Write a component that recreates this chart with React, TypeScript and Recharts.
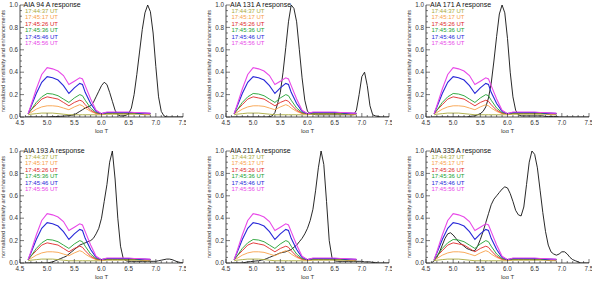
import React from "react";
import { LineChart, Line, XAxis, YAxis } from "recharts";

// temperature grids
const respT = [
  4.6, 4.65, 4.7, 4.75, 4.8, 4.85, 4.9, 4.95, 5.0, 5.05, 5.1, 5.15, 5.2, 5.25, 5.3,
  5.35, 5.4, 5.45, 5.5, 5.55, 5.6, 5.65, 5.7, 5.75, 5.8, 5.85, 5.9, 5.95, 6.0, 6.05,
  6.1, 6.15, 6.2, 6.25, 6.3, 6.35, 6.4, 6.45, 6.5, 6.55, 6.6, 6.65, 6.7, 6.75, 6.8,
  6.85, 6.9, 6.95, 7.0, 7.05, 7.1, 7.15, 7.2, 7.25, 7.3, 7.35, 7.4, 7.45, 7.5,
];
const enhT = [
  4.65, 4.7, 4.8, 4.9, 5.0, 5.1, 5.2, 5.3, 5.4, 5.5, 5.6, 5.65, 5.7, 5.8, 5.9, 6.0,
  6.1, 6.2, 6.3, 6.4, 6.5, 6.6, 6.7, 6.8, 6.9,
];

// enhancement curves (same in every panel)
const enh1 = [0.02, 0.025, 0.03, 0.035, 0.035, 0.035, 0.03, 0.025, 0.02, 0.02, 0.02, 0.02, 0.02, 0.02, 0.02, 0.02, 0.025, 0.025, 0.025, 0.025, 0.025, 0.025, 0.025, 0.02, 0.02];
const enh2 = [0.03, 0.04, 0.07, 0.09, 0.1, 0.1, 0.095, 0.08, 0.065, 0.09, 0.11, 0.1, 0.08, 0.05, 0.03, 0.025, 0.03, 0.03, 0.03, 0.03, 0.03, 0.03, 0.03, 0.025, 0.025];
const enh3 = [0.03, 0.06, 0.11, 0.16, 0.18, 0.17, 0.16, 0.13, 0.1, 0.13, 0.15, 0.14, 0.11, 0.06, 0.035, 0.03, 0.035, 0.035, 0.035, 0.035, 0.035, 0.035, 0.03, 0.03, 0.03];
const enh4 = [0.03, 0.06, 0.13, 0.18, 0.21, 0.205, 0.19, 0.16, 0.13, 0.17, 0.2, 0.19, 0.15, 0.08, 0.04, 0.03, 0.035, 0.035, 0.035, 0.035, 0.035, 0.035, 0.03, 0.03, 0.03];
const enh5 = [0.03, 0.09, 0.21, 0.31, 0.36, 0.35, 0.33, 0.28, 0.21, 0.26, 0.3, 0.29, 0.22, 0.12, 0.05, 0.03, 0.04, 0.04, 0.04, 0.04, 0.04, 0.04, 0.035, 0.035, 0.03];
const enh6 = [0.03, 0.1, 0.25, 0.38, 0.44, 0.43, 0.41, 0.37, 0.29, 0.32, 0.35, 0.34, 0.28, 0.16, 0.06, 0.03, 0.045, 0.045, 0.045, 0.045, 0.045, 0.04, 0.04, 0.035, 0.035];

const times = ["17:44:37 UT", "17:45:17 UT", "17:45:26 UT", "17:45:36 UT", "17:45:46 UT", "17:45:56 UT"];
const timeColors = ["#a8a83a", "#f8a048", "#e02828", "#20a030", "#2828d8", "#e848e8"];
const enhSeries = [enh1, enh2, enh3, enh4, enh5, enh6];

// normalized AIA temperature responses
const resp94 = [0, 0, 0, 0, 0, 0, 0, 0, 0, 0.002, 0.003, 0.004, 0.005, 0.006, 0.008, 0.01, 0.012, 0.015, 0.02, 0.035, 0.05, 0.065, 0.08, 0.09, 0.1, 0.13, 0.18, 0.23, 0.28, 0.31, 0.29, 0.22, 0.14, 0.06, 0.02, 0.01, 0.01, 0.015, 0.03, 0.08, 0.2, 0.38, 0.58, 0.78, 0.93, 1.0, 0.94, 0.75, 0.45, 0.18, 0.05, 0.01, 0, 0, 0, 0, 0, 0, 0];
const resp131 = [0, 0, 0, 0, 0, 0, 0, 0, 0, 0, 0, 0, 0, 0, 0.003, 0.01, 0.04, 0.12, 0.22, 0.4, 0.62, 0.85, 1.0, 0.97, 0.85, 0.6, 0.35, 0.15, 0.05, 0.03, 0.025, 0.02, 0.02, 0.02, 0.02, 0.02, 0.02, 0.02, 0.02, 0.02, 0.02, 0.02, 0.02, 0.02, 0.02, 0.02, 0.06, 0.2, 0.36, 0.4, 0.28, 0.1, 0.02, 0.01, 0.005, 0, 0, 0, 0];
const resp171 = [0, 0, 0, 0, 0, 0, 0, 0, 0, 0, 0, 0, 0, 0, 0.005, 0.008, 0.01, 0.02, 0.03, 0.05, 0.09, 0.17, 0.3, 0.5, 0.72, 0.92, 1.0, 0.93, 0.7, 0.4, 0.18, 0.06, 0.02, 0.01, 0.01, 0.01, 0.01, 0.01, 0.01, 0.01, 0.01, 0.01, 0.005, 0.005, 0.005, 0.005, 0.005, 0, 0, 0, 0, 0, 0, 0, 0, 0, 0, 0, 0];
const resp193 = [0, 0, 0, 0, 0, 0, 0, 0, 0, 0.005, 0.01, 0.02, 0.03, 0.04, 0.05, 0.06, 0.08, 0.1, 0.12, 0.14, 0.16, 0.17, 0.18, 0.19, 0.2, 0.22, 0.26, 0.31, 0.4, 0.55, 0.7, 0.9, 1.0, 0.75, 0.4, 0.15, 0.04, 0.02, 0.015, 0.015, 0.015, 0.015, 0.015, 0.015, 0.015, 0.015, 0.015, 0.015, 0.015, 0.02, 0.025, 0.03, 0.035, 0.035, 0.03, 0.02, 0.01, 0.005, 0];
const resp211 = [0, 0, 0, 0, 0, 0.005, 0.01, 0.012, 0.015, 0.018, 0.02, 0.025, 0.03, 0.04, 0.05, 0.06, 0.07, 0.08, 0.09, 0.095, 0.1, 0.11, 0.12, 0.14, 0.16, 0.19, 0.22, 0.26, 0.31, 0.38, 0.48, 0.65, 0.85, 1.0, 0.88, 0.55, 0.2, 0.05, 0.02, 0.015, 0.015, 0.015, 0.015, 0.015, 0.015, 0.015, 0.015, 0.015, 0.015, 0.01, 0.01, 0.01, 0.005, 0.005, 0, 0, 0, 0, 0];
const resp335 = [0, 0.02, 0.05, 0.1, 0.16, 0.22, 0.26, 0.27, 0.25, 0.22, 0.19, 0.17, 0.15, 0.13, 0.12, 0.11, 0.11, 0.15, 0.21, 0.28, 0.36, 0.44, 0.52, 0.57, 0.6, 0.63, 0.66, 0.68, 0.67, 0.62, 0.55, 0.47, 0.43, 0.42, 0.5, 0.7, 0.9, 1.0, 0.97, 0.85, 0.65, 0.45, 0.28, 0.16, 0.1, 0.08, 0.07, 0.08, 0.1, 0.1, 0.08, 0.05, 0.03, 0.02, 0.01, 0, 0, 0, 0];

const titles = ["AIA 94 A response", "AIA 131 A response", "AIA 171 A response", "AIA 193 A response", "AIA 211 A response", "AIA 335 A response"];
const responses = [resp94, resp131, resp171, resp193, resp211, resp335];

const xTicks = [4.5, 4.6, 4.7, 4.8, 4.9, 5.0, 5.1, 5.2, 5.3, 5.4, 5.5, 5.6, 5.7, 5.8, 5.9, 6.0, 6.1, 6.2, 6.3, 6.4, 6.5, 6.6, 6.7, 6.8, 6.9, 7.0, 7.1, 7.2, 7.3, 7.4, 7.5];
const xLabels = [4.5, 5.0, 5.5, 6.0, 6.5, 7.0, 7.5];
const yTicks = [0, 0.05, 0.1, 0.15, 0.2, 0.25, 0.3, 0.35, 0.4, 0.45, 0.5, 0.55, 0.6, 0.65, 0.7, 0.75, 0.8, 0.85, 0.9, 0.95, 1.0];
const yLabels = [0, 0.2, 0.4, 0.6, 0.8, 1.0];

// plot-area origins
const plotPos = [
  [19.5, 5], [226, 5], [426, 5],
  [19.5, 151], [226, 151], [426, 151],
];
const PW = 163;
const PH = 112;
const YW = 20;
const MT = 5;
const FONT = "'Liberation Sans', Arial, sans-serif";
const TEXT = "#333";

const isIn = (v: number, list: number[]) => list.some((m) => Math.abs(m - v) < 1e-6);

function BottomTick(props: any) {
  const { x, y, payload } = props;
  const major = isIn(payload.value, xLabels);
  return (
    <g>
      <line x1={x} x2={x} y1={y} y2={y - (major ? 4 : 2)} stroke="#222" strokeWidth={0.6} />
      {major && (
        <text x={x} y={y + 7.8} textAnchor="middle" fontSize={6.3} fill={TEXT} fontFamily={FONT}>
          {payload.value.toFixed(1)}
        </text>
      )}
    </g>
  );
}

function TopTick(props: any) {
  const { x, y, payload } = props;
  const major = isIn(payload.value, xLabels);
  return <line x1={x} x2={x} y1={y} y2={y + (major ? 4 : 2)} stroke="#222" strokeWidth={0.6} />;
}

function LeftTick(props: any) {
  const { x, y, payload } = props;
  const major = isIn(payload.value, yLabels);
  return (
    <g>
      <line x1={x} x2={x + (major ? 4 : 2)} y1={y} y2={y} stroke="#222" strokeWidth={0.6} />
      {major && (
        <text x={x - 2} y={y + 2.2} textAnchor="end" fontSize={6.3} fill={TEXT} fontFamily={FONT}>
          {payload.value.toFixed(1)}
        </text>
      )}
    </g>
  );
}

function RightTick(props: any) {
  const { x, y, payload } = props;
  const major = isIn(payload.value, yLabels);
  return <line x1={x} x2={x - (major ? 4 : 2)} y1={y} y2={y} stroke="#222" strokeWidth={0.6} />;
}

function Panel({ idx }: { idx: number }) {
  const [px, py] = plotPos[idx];
  const resp = respT.map((t, i) => ({ t, v: responses[idx][i] }));
  const enh = enhSeries.map((s) => enhT.map((t, i) => ({ t, v: s[i] })));
  return (
    <div style={{ position: "absolute", left: px - YW, top: py - MT }}>
      <LineChart width={YW + PW + 3} height={PH + MT + 16} margin={{ top: MT, right: 3, bottom: 0, left: 0 }}>
        <XAxis
          xAxisId="b"
          dataKey="t"
          type="number"
          domain={[4.5, 7.5]}
          ticks={xTicks}
          interval={0}
          allowDataOverflow
          tickSize={0}
          tickMargin={0}
          tickLine={false}
          tick={<BottomTick />}
          height={16}
          axisLine={{ stroke: "#222", strokeWidth: 0.8 }}
          label={{ value: "log T", position: "insideBottom", offset: 0, fontSize: 6, fill: TEXT, fontFamily: FONT }}
        />
        <XAxis
          xAxisId="top"
          orientation="top"
          dataKey="t"
          type="number"
          domain={[4.5, 7.5]}
          ticks={xTicks}
          interval={0}
          allowDataOverflow
          tickSize={0}
          tickMargin={0}
          tickLine={false}
          tick={<TopTick />}
          height={0}
          axisLine={{ stroke: "#222", strokeWidth: 0.8 }}
        />
        <YAxis
          yAxisId="l"
          type="number"
          domain={[0, 1]}
          ticks={yTicks}
          interval={0}
          allowDataOverflow
          tickSize={0}
          tickMargin={0}
          tickLine={false}
          tick={<LeftTick />}
          width={YW}
          axisLine={{ stroke: "#222", strokeWidth: 0.8 }}
          label={{
            value: "normalized sensitivity and enhancements",
            angle: -90,
            position: "insideLeft",
            offset: 3,
            fontSize: 5.6,
            fill: TEXT,
            fontFamily: FONT,
            style: { textAnchor: "middle" },
          }}
        />
        <YAxis
          yAxisId="r"
          orientation="right"
          type="number"
          domain={[0, 1]}
          ticks={yTicks}
          interval={0}
          allowDataOverflow
          tickSize={0}
          tickMargin={0}
          tickLine={false}
          tick={<RightTick />}
          width={0}
          axisLine={{ stroke: "#222", strokeWidth: 0.8 }}
        />
        <Line
          xAxisId="b"
          yAxisId="l"
          data={resp}
          dataKey="v"
          stroke="#111"
          strokeWidth={0.9}
          dot={false}
          type="linear"
          isAnimationActive={false}
        />
        {enh.map((d, i) => (
          <Line
            key={i}
            xAxisId="b"
            yAxisId="l"
            data={d}
            dataKey="v"
            stroke={timeColors[i]}
            strokeWidth={i >= 4 ? 1.1 : 0.9}
            dot={false}
            type="linear"
            isAnimationActive={false}
          />
        ))}
        <Line xAxisId="top" yAxisId="r" data={resp} dataKey="v" stroke="none" dot={false} isAnimationActive={false} />
      </LineChart>
      <div
        style={{
          position: "absolute",
          left: YW + 4,
          top: MT - 3.5,
          fontFamily: FONT,
          fontSize: 7,
          lineHeight: "6.4px",
          color: "#111",
          whiteSpace: "nowrap",
        }}
      >
        <div>{titles[idx]}</div>
        {times.map((t, i) => (
          <div key={t} style={{ color: timeColors[i], fontSize: 6, paddingLeft: 1.5 }}>
            {t}
          </div>
        ))}
      </div>
    </div>
  );
}

export default function App() {
  return (
    <div style={{ position: "absolute", left: 0, top: 0, width: 600, height: 281, background: "#fff", overflow: "hidden" }}>
      {titles.map((_, i) => (
        <Panel key={i} idx={i} />
      ))}
    </div>
  );
}
